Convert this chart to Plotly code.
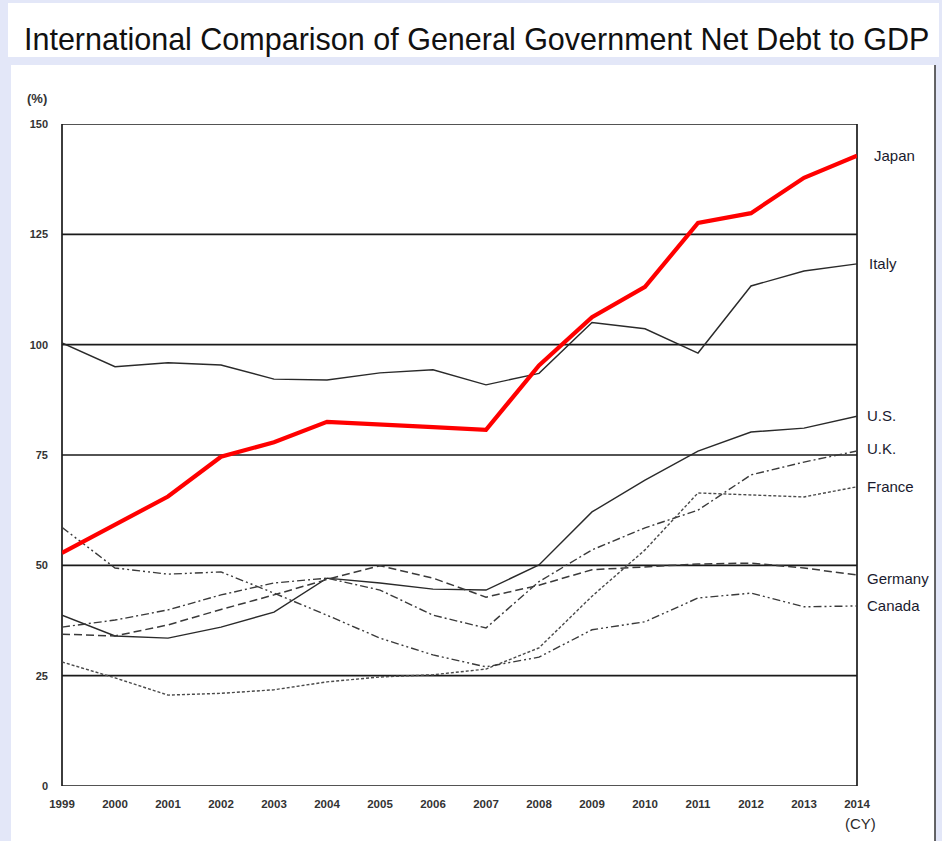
import plotly.graph_objects as go

# Net debt to GDP (%), calendar years 1999-2014
years = list(range(1999, 2015))
japan = [52.8, 59.2, 65.6, 74.6, 77.9, 82.5, 82.0, 81.3, 80.7, 95.3, 106.2, 113.1, 127.6, 129.8, 137.8, 142.8]
italy = [100.4, 95.0, 95.9, 95.4, 92.2, 92.0, 93.6, 94.3, 90.9, 93.5, 105.0, 103.6, 98.1, 113.3, 116.7, 118.3]
us = [38.7, 34.0, 33.5, 36.0, 39.4, 47.1, 46.0, 44.6, 44.4, 50.1, 62.1, 69.3, 75.9, 80.2, 81.1, 83.8]
uk = [36.0, 37.6, 39.9, 43.3, 46.0, 47.1, 44.4, 38.7, 35.8, 46.3, 53.5, 58.5, 62.5, 70.5, 73.4, 75.9]
france = [28.1, 24.5, 20.6, 21.0, 21.8, 23.6, 24.7, 25.2, 26.5, 31.3, 43.0, 53.5, 66.4, 66.0, 65.5, 67.8]
germany = [34.4, 34.0, 36.5, 40.0, 43.3, 46.8, 49.9, 47.1, 42.8, 45.5, 49.0, 49.7, 50.3, 50.5, 49.4, 47.8]
canada = [58.6, 49.4, 48.0, 48.5, 43.7, 38.7, 33.5, 29.7, 27.0, 29.2, 35.4, 37.2, 42.6, 43.7, 40.6, 40.8]

y_ticks = [0, 25, 50, 75, 100, 125, 150]
x_ticks = years

W, H = 942, 841
L, R, T, B = 62, 857, 124, 786  # plot area in pixels


def px(x):
    return (x - L) / (R - L)


def py(y):
    return (B - y) / (B - T)


# name, values, colour, width, dash, label yshift, label xshift
series = [
    ("Italy", italy, "#2a2a2a", 1.4, "solid", 0, 10),
    ("U.S.", us, "#2a2a2a", 1.4, "solid", 1, 8),
    ("Germany", germany, "#3a3a3a", 1.5, "8px,4px", -3, 8),
    ("U.K.", uk, "#3a3a3a", 1.4, "8px,3px,2px,3px", 3, 8),
    ("France", france, "#4a4a4a", 1.4, "3px,2px", 0, 8),
    ("Canada", canada, "#3a3a3a", 1.4, "8px,3px,2px,3px,2px,3px", 0, 8),
    ("Japan", japan, "#ff0000", 4.2, "solid", 0, 15),
]

fig = go.Figure()
label_font = dict(family="Liberation Sans, Arial, sans-serif", size=15, color="#1a1a2e")
annotations = []
for name, vals, col, w, dash, ys, xs in series:
    fig.add_trace(go.Scatter(
        x=years, y=vals, mode="lines", name=name,
        line=dict(color=col, width=w, dash=dash),
        showlegend=False, hoverinfo="x+y+name",
    ))
    annotations.append(dict(
        x=years[-1], y=vals[-1], xref="x", yref="y", text=name,
        showarrow=False, xanchor="left", yanchor="middle",
        xshift=xs, yshift=ys, font=label_font,
    ))

x_tick_font = dict(family="Liberation Sans, Arial, sans-serif", size=11.5,
                   color="#333333", weight="bold")
y_tick_font = dict(family="Liberation Sans, Arial, sans-serif", size=11,
                   color="#333333", weight="bold")

annotations += [
    dict(x=px(25), y=py(98), xref="paper", yref="paper", text="(%)",
         showarrow=False, xanchor="left", yanchor="middle",
         font=dict(family="Liberation Sans, Arial, sans-serif", size=13,
                   color="#333333", weight="bold")),
    dict(x=px(843), y=py(823), xref="paper", yref="paper", text="(CY)",
         showarrow=False, xanchor="left", yanchor="middle",
         font=dict(family="Liberation Sans, Arial, sans-serif", size=15, color="#2a2a2a")),
    dict(x=px(22), y=py(40), xref="paper", yref="paper",
         text="International Comparison of General Government Net Debt to GDP",
         showarrow=False, xanchor="left", yanchor="middle",
         font=dict(family="Liberation Sans, Arial, sans-serif", size=30.5, color="#111111")),
]

shapes = [
    # title band
    dict(type="rect", xref="paper", yref="paper", x0=px(8), x1=px(939), y0=py(3), y1=py(57),
         fillcolor="white", line=dict(width=0), layer="below"),
    # chart panel
    dict(type="rect", xref="paper", yref="paper", x0=px(11), x1=px(935), y0=py(65), y1=py(845),
         fillcolor="white", line=dict(width=0), layer="below"),
    dict(type="line", xref="paper", yref="paper", x0=px(935), x1=px(935), y0=py(65), y1=py(845),
         line=dict(color="#333333", width=1.5)),
]
# horizontal reference lines at every tick
for v in y_ticks:
    shapes.append(dict(type="line", xref="paper", yref="y", x0=0, x1=1, y0=v, y1=v,
                       line=dict(color="#1a1a1a", width=1.7), layer="below"))
shapes += [
    dict(type="line", xref="paper", yref="paper", x0=0, x1=0, y0=0, y1=1,
         line=dict(color="#1a1a1a", width=1.7), layer="below"),
    dict(type="line", xref="paper", yref="paper", x0=1, x1=1, y0=0, y1=1,
         line=dict(color="#1a1a1a", width=1.7), layer="below"),
]

fig.update_layout(
    width=W, height=H,
    margin=dict(l=L, r=W - R, t=T, b=H - B, pad=0),
    paper_bgcolor="#e3e7f8",
    plot_bgcolor="white",
    xaxis=dict(range=[years[0], years[-1]], tickmode="array", tickvals=x_ticks,
               ticktext=[str(v) for v in x_ticks], showgrid=False, zeroline=False,
               showline=False, ticks="", tickfont=x_tick_font, ticklabelstandoff=9),
    yaxis=dict(range=[0, 150], tickmode="array", tickvals=y_ticks,
               ticktext=[str(v) for v in y_ticks], showgrid=False, zeroline=False,
               showline=False, ticks="", tickfont=y_tick_font, ticklabelstandoff=13),
    shapes=shapes,
    annotations=annotations,
)

fig.write_html("out.html")
